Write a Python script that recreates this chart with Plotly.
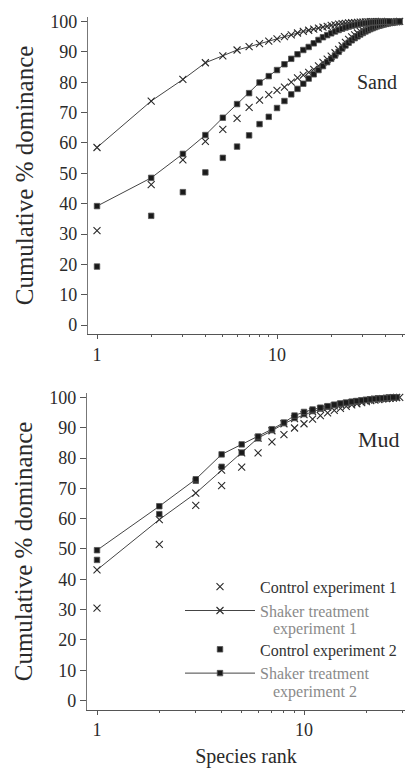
import plotly.graph_objects as go
from plotly.subplots import make_subplots

# ---------------- data ----------------
sand_ctrl1 = [31.1, 46.3, 54.4, 60.5, 64.5, 68.1, 71.7, 74.1, 75.9, 77.3,
              78.4, 80.0, 81.4, 82.3, 83.2, 84.2, 85.4, 86.5, 87.6, 88.6,
              89.7, 90.8, 92.0, 93.1, 94.1, 94.9, 95.6, 96.2, 96.7, 97.1,
              97.5, 97.8, 98.1, 98.4, 98.6, 98.8, 99.0, 99.2, 99.3, 99.4,
              99.5, 99.6, 99.7, 99.8, 99.85, 99.9, 99.95, 100.0]
sand_shaker1 = [58.5, 73.8, 80.9, 86.4, 88.7, 90.6, 91.7, 92.7, 93.5, 94.3,
                95.0, 95.6, 96.2, 96.7, 97.1, 97.5, 97.8, 98.1, 98.4, 98.7,
                98.9, 99.1, 99.25, 99.4, 99.5, 99.6, 99.65, 99.7, 99.75, 99.8,
                99.85, 99.88, 99.9, 99.93, 99.95, 99.97, 99.98, 100.0]
sand_ctrl2 = [19.3, 36.0, 43.8, 50.3, 55.1, 58.8, 62.5, 66.2, 68.6, 71.5,
              73.8, 76.0, 77.8, 79.5, 81.2, 82.6, 84.0, 85.3, 86.6, 87.7,
              88.8, 90.0, 91.1, 92.1, 93.0, 93.8, 94.5, 95.1, 95.7, 96.2,
              96.7, 97.1, 97.5, 97.8, 98.1, 98.4, 98.6, 98.8, 99.0, 99.2,
              99.35, 99.5, 99.6, 99.7, 99.8, 99.9, 99.95, 100.0]
sand_shaker2 = [39.2, 48.5, 56.4, 62.6, 68.3, 72.8, 76.4, 79.9, 82.0, 84.0,
                85.9, 87.7, 89.2, 90.6, 91.6, 92.8, 93.9, 94.8, 95.5, 96.1,
                96.7, 97.2, 97.6, 98.0, 98.3, 98.6, 98.8, 99.0, 99.2, 99.3,
                99.4, 99.5, 99.6, 99.7, 99.75, 99.8, 99.85, 99.9, 99.92, 99.95,
                99.97, 100.0]

mud_ctrl1 = [30.5, 51.5, 64.4, 70.9, 77.0, 81.7, 85.3, 87.7, 89.9, 91.3,
             92.8, 94.0, 94.9, 95.7, 96.4, 97.0, 97.5, 97.9, 98.3, 98.6,
             98.9, 99.1, 99.3, 99.5, 99.6, 99.7, 99.8, 99.9, 100.0]
mud_shaker1 = [43.1, 59.7, 68.4, 76.0, 81.7, 86.6, 89.0, 91.3, 93.0, 94.3,
               95.3, 96.1, 96.7, 97.2, 97.7, 98.0, 98.3, 98.6, 98.8, 99.0,
               99.2, 99.4, 99.5, 99.6, 99.7, 99.8, 99.9, 100.0]
mud_ctrl2 = [46.4, 61.5, 72.5, 77.1, 81.8, 86.5, 89.2, 91.5, 93.2, 94.5,
             95.5, 96.3, 96.9, 97.4, 97.8, 98.1, 98.4, 98.7, 98.9, 99.1,
             99.3, 99.45, 99.6, 99.7, 99.8, 99.9, 99.95, 100.0]
mud_shaker2 = [49.6, 64.1, 73.0, 81.2, 84.5, 87.1, 89.5, 91.7, 94.0, 95.2,
               96.0, 96.6, 97.1, 97.6, 98.0, 98.3, 98.6, 98.8, 99.0, 99.2,
               99.35, 99.5, 99.6, 99.7, 99.8, 99.9, 100.0]

y_ticks = [0, 10, 20, 30, 40, 50, 60, 70, 80, 90, 100]
x_ticks = [1, 10]
x_tick_text = ["1", "10"]
x_minor = [2, 3, 4, 5, 6, 7, 8, 9, 20, 30, 40, 50]

legend_names = ["Control experiment 1", "Shaker treatment",
                "Control experiment 2", "Shaker treatment"]
legend_second_lines = ["experiment 1", "experiment 2"]

DARK_TXT = "#333"
GRAY_TXT = "#8a8a8a"
INK = "#2a2a2a"
FONT = "Liberation Serif"

def ranks(v):
    return list(range(1, len(v) + 1))

fig = make_subplots(rows=2, cols=1)

def add_panel(row, c1, s1, c2, s2, show):
    fig.add_trace(go.Scatter(x=ranks(c1), y=c1, mode="markers",
                             name=f"<span style='color:{DARK_TXT}'>{legend_names[0]}</span>",
                             legendgroup="g1", showlegend=show, cliponaxis=False,
                             marker=dict(symbol="x-thin-open", size=7,
                                         line=dict(width=1.1, color=INK), color=INK)),
                  row=row, col=1)
    fig.add_trace(go.Scatter(x=ranks(s1), y=s1, mode="lines+markers",
                             name=f"<span style='color:{GRAY_TXT}'>{legend_names[1]}</span>",
                             legendgroup="g1", showlegend=show, cliponaxis=False,
                             line=dict(color="#444", width=1),
                             marker=dict(symbol="x-thin-open", size=7,
                                         line=dict(width=1.1, color=INK), color=INK)),
                  row=row, col=1)
    fig.add_trace(go.Scatter(x=ranks(c2), y=c2, mode="markers",
                             name=f"<span style='color:{DARK_TXT}'>{legend_names[2]}</span>",
                             legendgroup="g2", showlegend=show, cliponaxis=False,
                             marker=dict(symbol="square", size=5.5, color="#1a1a1a",
                                         line=dict(width=0.8, color="#555"))),
                  row=row, col=1)
    fig.add_trace(go.Scatter(x=ranks(s2), y=s2, mode="lines+markers",
                             name=f"<span style='color:{GRAY_TXT}'>{legend_names[3]}</span>",
                             legendgroup="g2", showlegend=show, cliponaxis=False,
                             line=dict(color="#444", width=1),
                             marker=dict(symbol="square", size=5.5, color="#1a1a1a",
                                         line=dict(width=0.8, color="#555"))),
                  row=row, col=1)

add_panel(1, sand_ctrl1, sand_shaker1, sand_ctrl2, sand_shaker2, False)
add_panel(2, mud_ctrl1, mud_shaker1, mud_ctrl2, mud_shaker2, True)

W, H = 405, 768

xcommon = dict(type="log", showline=True, linecolor="#555", linewidth=1.2,
               tickmode="array", tickvals=x_ticks, ticktext=x_tick_text,
               ticks="outside", ticklen=4, tickcolor="#555", showgrid=False,
               zeroline=False, tickfont=dict(family=FONT, size=18, color=INK),
               minor=dict(tickmode="array", tickvals=x_minor, ticks="outside",
                          ticklen=2, tickcolor="#555"))
ycommon = dict(showline=True, linecolor="#777", linewidth=1.2,
               tickmode="array", tickvals=y_ticks, ticks="outside", ticklen=6,
               tickcolor="#555", showgrid=False, zeroline=False,
               tickfont=dict(family=FONT, size=18, color=INK))

ytitle_font = dict(family=FONT, size=25, color=INK)
fig.update_xaxes(**xcommon, domain=[88 / W, 1], range=[-0.05, 1.7111], row=1, col=1)
fig.update_xaxes(**xcommon, domain=[87 / W, 1], range=[-0.0483, 1.4879], row=2, col=1,
                 title=dict(text="Species rank", font=dict(family=FONT, size=20, color=INK),
                            standoff=9))
fig.update_yaxes(**ycommon, domain=[1 - 331 / H, 1 - 11 / H], range=[-2.9, 101.5], row=1, col=1,
                 title=dict(text="Cumulative % dominance", font=ytitle_font, standoff=9))
fig.update_yaxes(**ycommon, domain=[1 - 710 / H, 1 - 391 / H], range=[-2.94, 101.3], row=2, col=1,
                 title=dict(text="Cumulative % dominance", font=ytitle_font, standoff=9))

fig.add_annotation(text="Sand", xref="paper", yref="paper", x=377 / W, y=1 - 77 / H,
                   xanchor="center", yanchor="middle",
                   showarrow=False, font=dict(family=FONT, size=20, color=INK))
fig.add_annotation(text="Mud", xref="paper", yref="paper", x=379 / W, y=1 - 437 / H,
                   xanchor="center", yanchor="middle",
                   showarrow=False, font=dict(family=FONT, size=22, color=INK))
# second lines of the two-line legend labels
for txt, ypix in zip(legend_second_lines, [629, 692]):
    fig.add_annotation(text=txt, xref="paper", yref="paper", x=271 / W, y=1 - ypix / H,
                       xanchor="left", yanchor="middle", showarrow=False,
                       font=dict(family=FONT, size=16, color=GRAY_TXT))

fig.update_layout(
    width=W, height=H, margin=dict(l=0, r=0, t=0, b=0),
    paper_bgcolor="white", plot_bgcolor="white",
    legend=dict(x=180 / W, y=1 - 569 / H, xanchor="left", yanchor="top",
                bgcolor="rgba(0,0,0,0)", font=dict(family=FONT, size=16, color=INK),
                itemwidth=70, valign="middle", tracegroupgap=15, traceorder="grouped"),
)

fig.write_html("out.html", config={"displayModeBar": False},
               post_script="document.body.style.margin='0';")
